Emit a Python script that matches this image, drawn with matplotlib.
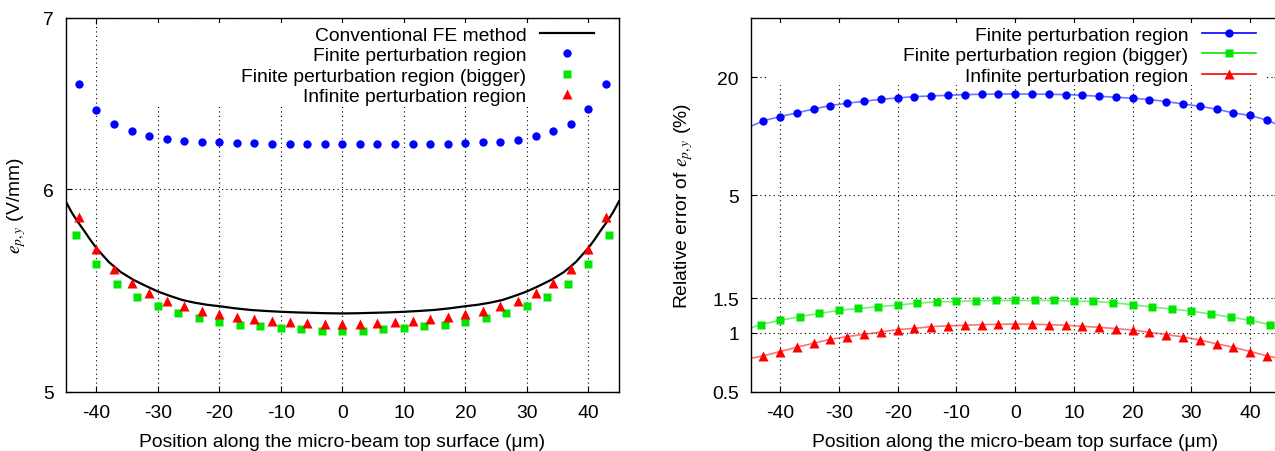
import matplotlib
matplotlib.use("Agg")
import matplotlib.pyplot as plt
from matplotlib.patches import Rectangle
from matplotlib.ticker import NullLocator

plt.rcParams['font.family'] = ['Liberation Sans', 'DejaVu Sans']
plt.rcParams['mathtext.fontset'] = 'stix'
plt.rcParams['font.size'] = 13.9

# --------------------------------------------------------------------------------------------------
# DATA:

# sample positions along the top surface (um)
x_fine = [-42.86, -40.0, -37.14, -34.29, -31.43, -28.57, -25.71, -22.86, -20.0, -17.14, -14.29,
          -11.43, -8.57, -5.71, -2.86, 0.0, 2.86, 5.71, 8.57, 11.43, 14.29, 17.14, 20.0, 22.86,
          25.71, 28.57, 31.43, 34.29, 37.14, 40.0, 42.86]
x_big = [-43.33, -40.0, -36.67, -33.33, -30.0, -26.67, -23.33, -20.0, -16.67, -13.33, -10.0,
         -6.67, -3.33, 0.0, 3.33, 6.67, 10.0, 13.33, 16.67, 20.0, 23.33, 26.67, 30.0, 33.33,
         36.67, 40.0, 43.33]

# conventional FE solution (V/mm)
x_fe = [-45, -44, -43, -42, -41, -40, -38, -37, -36, -34, -32, -30, -28, -26, -24, -22, -20,
        -17.5, -15, -12.5, -10, -7.5, -5, -2.5, 0, 2.5, 5, 7.5, 10, 12.5, 15, 17.5, 20, 22, 24,
        26, 28, 30, 32, 34, 36, 37, 38, 40, 41, 42, 43, 44, 45]
ep_fe = [5.935, 5.875, 5.825, 5.780, 5.733, 5.690, 5.620, 5.593, 5.568, 5.530, 5.500, 5.472,
         5.450, 5.430, 5.417, 5.407, 5.400, 5.390, 5.382, 5.377, 5.373, 5.370, 5.368, 5.366,
         5.365, 5.366, 5.368, 5.370, 5.373, 5.377, 5.382, 5.390, 5.400, 5.407, 5.417, 5.430,
         5.450, 5.472, 5.500, 5.530, 5.568, 5.593, 5.620, 5.690, 5.733, 5.780, 5.825, 5.875,
         5.935]

# e_p,y from the three perturbation models (V/mm)
ep_finite = [6.597, 6.442, 6.364, 6.320, 6.295, 6.280, 6.267, 6.261, 6.258, 6.255, 6.253, 6.252,
             6.250, 6.250, 6.250, 6.250, 6.250, 6.250, 6.250, 6.250, 6.252, 6.252, 6.255, 6.259,
             6.262, 6.274, 6.295, 6.320, 6.364, 6.452, 6.599]
ep_bigger = [5.757, 5.608, 5.511, 5.447, 5.403, 5.369, 5.345, 5.324, 5.311, 5.304, 5.296, 5.288,
             5.283, 5.280, 5.283, 5.288, 5.296, 5.304, 5.311, 5.324, 5.345, 5.369, 5.403, 5.447,
             5.511, 5.608, 5.757]
ep_infinite = [5.853, 5.686, 5.584, 5.513, 5.464, 5.427, 5.400, 5.377, 5.360, 5.346, 5.338,
               5.328, 5.322, 5.318, 5.315, 5.313, 5.315, 5.318, 5.322, 5.328, 5.338, 5.346,
               5.360, 5.378, 5.400, 5.427, 5.464, 5.513, 5.584, 5.686, 5.853]

# relative error of e_p,y (%)
err_finite = [11.97, 12.60, 13.14, 13.77, 14.33, 14.72, 15.07, 15.42, 15.66, 15.92, 16.03, 16.16,
              16.29, 16.35, 16.40, 16.40, 16.40, 16.35, 16.29, 16.16, 15.97, 15.79, 15.61, 15.37,
              15.01, 14.60, 14.21, 13.72, 13.14, 12.75, 12.07]
err_bigger = [1.098, 1.154, 1.205, 1.252, 1.297, 1.327, 1.354, 1.380, 1.412, 1.435, 1.440, 1.452,
              1.457, 1.457, 1.457, 1.457, 1.446, 1.440, 1.419, 1.386, 1.348, 1.317, 1.286, 1.242,
              1.199, 1.154, 1.098]
err_infinite = [0.761, 0.801, 0.842, 0.883, 0.925, 0.954, 0.980, 1.007, 1.036, 1.051, 1.072,
                1.082, 1.089, 1.098, 1.102, 1.105, 1.102, 1.098, 1.089, 1.076, 1.064, 1.048,
                1.031, 1.003, 0.977, 0.950, 0.917, 0.876, 0.842, 0.801, 0.761]
# where the fitted curves meet the plot edges (x = -45 and 45)
err_finite_ends = [11.22, 11.35]
err_bigger_ends = [1.055, 1.055]
err_infinite_ends = [0.739, 0.739]

x_ticks = [-40, -30, -20, -10, 0, 10, 20, 30, 40]
left_yticks = [5, 6, 7]
right_yticks = [0.5, 1, 1.5, 5, 20]

LABELS = ["Finite perturbation region", "Finite perturbation region (bigger)",
          "Infinite perturbation region"]
BLUE, GREEN, RED = "#0000ff", "#00e600", "#ff0000"

# --------------------------------------------------------------------------------------------------
# FIGURE:
fig = plt.figure(figsize=(12.75, 4.52), dpi=100)
ax1 = fig.add_axes([0.0515, 0.1312, 0.434, 0.8268])
ax2 = fig.add_axes([0.5888, 0.1312, 0.4148, 0.8268])  # runs off the right edge, as in the source

LEGEND_KW = dict(loc="upper right", bbox_to_anchor=(0.955, 0.978), frameon=False,
                 markerfirst=False, numpoints=1, handlelength=2.8, handletextpad=0.7,
                 labelspacing=0.15, borderpad=0, borderaxespad=0)


def style_axis(ax, yticks):
    ax.set_yscale("log")
    ax.set_xlim(-45, 45)
    ax.set_xticks(x_ticks)
    ax.set_xticklabels([str(t) for t in x_ticks])
    ax.set_yticks(yticks)
    ax.set_yticklabels([f"{t:g}" for t in yticks])
    ax.yaxis.set_minor_locator(NullLocator())
    ax.tick_params(direction="in", top=True, right=True, length=4.5, width=0.8, pad=8.5)
    ax.grid(True, color="black", linestyle=(0, (1, 3)), linewidth=0.8)
    for s in ax.spines.values():
        s.set_linewidth(1.0)
    ax.set_xlabel("Position along the micro-beam top surface (\u03bcm)", labelpad=9)


# 1. Left panel: e_p,y
style_axis(ax1, left_yticks)
ax1.set_ylim(5, 7)
ax1.add_patch(Rectangle((0.116, 0.7645), 0.86, 0.222, transform=ax1.transAxes,
                        facecolor="white", edgecolor="none", zorder=1.8))
ax1.plot(x_fe, ep_fe, color="black", lw=1.6, label="Conventional FE method", zorder=2)
ax1.plot(x_fine, ep_finite, "o", color=BLUE, ms=6, mec="none", label=LABELS[0], zorder=3)
ax1.plot(x_big, ep_bigger, "s", color=GREEN, ms=6, mec="none", label=LABELS[1], zorder=3)
ax1.plot(x_fine, ep_infinite, "^", color=RED, ms=7, mec="none", label=LABELS[2], zorder=3)
ax1.set_ylabel("$e_{p,y}$ (V/mm)", labelpad=11)
ax1.legend(**LEGEND_KW)

# 2. Right panel: relative error
style_axis(ax2, right_yticks)
ax2.set_ylim(0.5, 40)
ax2.add_patch(Rectangle((0.0327, 0.8214), 0.94, 0.165, transform=ax2.transAxes,
                        facecolor="white", edgecolor="none", zorder=1.8))
curves = [(x_fine, err_finite, err_finite_ends, "o", BLUE, 6),
          (x_big, err_bigger, err_bigger_ends, "s", GREEN, 6),
          (x_fine, err_infinite, err_infinite_ends, "^", RED, 7)]
for (xs, ys, ends, mk, col, ms), lab in zip(curves, LABELS):
    ax2.plot([-45] + xs + [45], [ends[0]] + ys + [ends[1]], "-", color=col, lw=1.2, alpha=0.55,
             zorder=2)
    ax2.plot(xs, ys, mk, color=col, ms=ms, mec="none", zorder=3)
    # legend proxy: line + marker
    ax2.plot([], [], "-", marker=mk, color=col, ms=ms, mec="none", lw=1.2, label=lab)
ax2.set_ylabel("Relative error of $e_{p,y}$ (%)", labelpad=12)
ax2.legend(**LEGEND_KW)

fig.savefig("out.png", dpi=100)
